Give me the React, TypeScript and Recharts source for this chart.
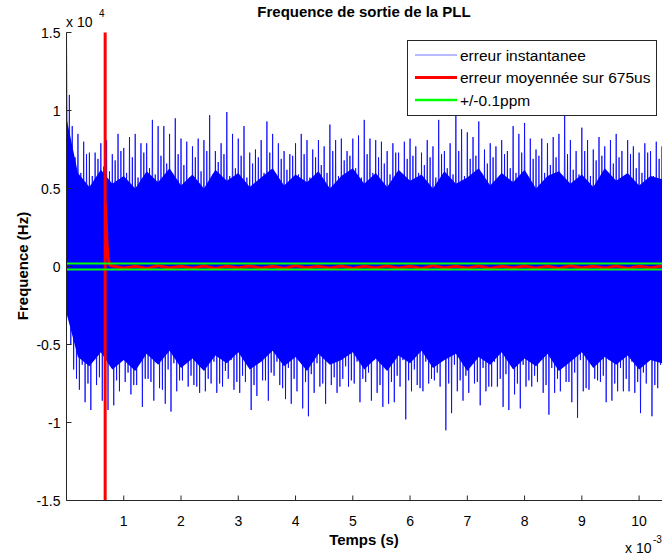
import { Area, ComposedChart, Line, XAxis, YAxis } from 'recharts';

// time in ms (x 10^-3 s), frequency in units of 10^4 Hz
const xTicks = [1, 2, 3, 4, 5, 6, 7, 8, 9, 10];
const yTicks = [-1.5, -1, -0.5, 0, 0.5, 1, 1.5];

// blue: instantaneous error, biggest upper peak per 0.1 ms slot (t = 0 .. 10.4)
const spikeHigh = [
  1.5, 0.9, 0.85, 0.8, 0.73, 0.73, 0.79, 0.81, 0.72, 0.85,
  0.76, 0.83, 0.85, 0.79, 0.79, 0.94, 0.9, 0.9, 0.85, 0.95,
  0.82, 0.8, 0.77, 0.82, 0.81, 0.97, 0.74, 0.79, 0.99, 0.85,
  0.82, 0.9, 0.73, 0.75, 0.81, 0.93, 0.85, 0.79, 0.74, 0.72,
  0.79, 0.85, 0.81, 0.75, 0.81, 0.77, 0.91, 0.81, 0.82, 0.74,
  0.82, 0.84, 0.94, 0.82, 0.81, 0.8, 0.74, 0.79, 0.73, 0.8,
  0.82, 0.77, 0.73, 0.81, 0.77, 0.94, 0.74, 0.79, 0.97, 0.88,
  0.86, 0.83, 0.93, 0.75, 0.79, 0.77, 0.81, 0.74, 0.9, 0.85,
  0.92, 0.82, 0.75, 0.82, 0.79, 0.83, 0.85, 0.97, 0.81, 0.74,
  0.89, 0.81, 0.75, 0.83, 0.77, 0.81, 0.85, 0.74, 0.81, 0.77,
  0.73, 0.79, 0.74, 0.8, 0.77,
];

// biggest lower peak per 0.1 ms slot
const spikeLow = [
  -0.3, -0.66, -0.79, -0.87, -0.92, -0.76, -0.86, -0.92, -0.89, -0.8,
  -0.74, -0.82, -0.76, -0.9, -0.72, -0.86, -0.78, -0.88, -0.93, -0.8,
  -0.73, -0.77, -0.76, -0.81, -0.8, -0.75, -0.81, -0.77, -0.72, -0.79,
  -0.81, -0.74, -0.92, -0.83, -0.73, -0.86, -0.7, -0.76, -0.85, -0.88,
  -0.8, -0.91, -0.96, -0.81, -0.77, -0.88, -0.76, -0.81, -0.72, -0.77,
  -0.75, -0.87, -0.74, -0.86, -0.81, -0.9, -0.88, -0.87, -0.77, -0.98,
  -0.8, -0.76, -0.8, -0.75, -0.73, -0.77, -1.05, -0.94, -0.8, -0.86,
  -0.81, -0.75, -0.89, -0.8, -0.77, -0.77, -0.9, -0.92, -0.82, -0.91,
  -0.77, -0.77, -0.74, -0.81, -0.95, -0.81, -0.8, -0.74, -0.87, -0.97,
  -0.8, -0.79, -0.72, -0.74, -0.87, -0.86, -0.8, -0.8, -0.8, -0.81,
  -0.94, -0.75, -0.96, -0.78, -0.76,
];

// smaller peaks in between
const minorHigh = [
  1.1, 0.7, 0.6, 0.72, 0.58, 0.69, 0.64, 0.61, 0.68, 0.74,
  0.6, 0.7, 0.57, 0.73, 0.63, 0.59, 0.71, 0.66, 0.58, 0.72,
  0.65, 0.57, 0.7, 0.61, 0.74, 0.59, 0.67, 0.72, 0.58, 0.63,
  0.71, 0.57, 0.66, 0.7, 0.6, 0.73, 0.58, 0.69, 0.62, 0.71,
  0.59, 0.72, 0.57, 0.7, 0.65, 0.6, 0.74, 0.58, 0.68, 0.71,
  0.63, 0.57, 0.72, 0.6, 0.7, 0.66, 0.59, 0.73, 0.58, 0.69,
  0.71, 0.6, 0.65, 0.7, 0.57, 0.72, 0.63, 0.59, 0.74, 0.58,
  0.69, 0.71, 0.6, 0.66, 0.7, 0.57, 0.72, 0.63, 0.6, 0.73,
  0.58, 0.69, 0.71, 0.6, 0.65, 0.7, 0.57, 0.72, 0.62, 0.59,
  0.74, 0.58, 0.68, 0.71, 0.6, 0.66, 0.7, 0.57, 0.72, 0.63,
  0.6, 0.73, 0.58, 0.69, 0.71,
];
const minorLow = [
  -0.5, -0.72, -0.63, -0.75, -0.6, -0.71, -0.78, -0.64, -0.73, -0.6,
  -0.68, -0.76, -0.61, -0.72, -0.74, -0.6, -0.79, -0.66, -0.62, -0.73,
  -0.6, -0.7, -0.77, -0.64, -0.72, -0.61, -0.75, -0.67, -0.6, -0.74,
  -0.7, -0.62, -0.76, -0.6, -0.73, -0.68, -0.61, -0.78, -0.65, -0.72,
  -0.6, -0.74, -0.69, -0.62, -0.75, -0.6, -0.71, -0.77, -0.64, -0.73,
  -0.61, -0.72, -0.68, -0.6, -0.76, -0.63, -0.74, -0.7, -0.6, -0.73,
  -0.66, -0.78, -0.61, -0.72, -0.68, -0.6, -0.75, -0.63, -0.73, -0.7,
  -0.6, -0.74, -0.65, -0.77, -0.61, -0.72, -0.69, -0.6, -0.75, -0.63,
  -0.73, -0.7, -0.6, -0.76, -0.65, -0.72, -0.61, -0.74, -0.68, -0.6,
  -0.78, -0.63, -0.73, -0.7, -0.6, -0.75, -0.65, -0.72, -0.61, -0.74,
  -0.68, -0.6, -0.76, -0.63, -0.73,
];

// solid part of the blue band, every 0.2 ms (ragged edge)
const coreHigh = [
  0.95, 0.6, 0.51, 0.62, 0.53, 0.58, 0.5, 0.61, 0.54, 0.63,
  0.52, 0.59, 0.5, 0.62, 0.55, 0.6, 0.51, 0.57, 0.63, 0.52,
  0.59, 0.54, 0.61, 0.5, 0.58, 0.63, 0.53, 0.6, 0.51, 0.62,
  0.55, 0.59, 0.5, 0.61, 0.53, 0.57, 0.63, 0.52, 0.6, 0.54,
  0.62, 0.5, 0.58, 0.61, 0.53, 0.59, 0.51, 0.63, 0.55, 0.6,
  0.52, 0.58, 0.56,
];
const coreLow = [
  -0.3, -0.58, -0.64, -0.55, -0.66, -0.6, -0.67, -0.56, -0.63, -0.54,
  -0.65, -0.59, -0.67, -0.57, -0.62, -0.55, -0.66, -0.61, -0.54, -0.64,
  -0.58, -0.67, -0.56, -0.63, -0.6, -0.55, -0.66, -0.59, -0.67, -0.57,
  -0.62, -0.54, -0.65, -0.6, -0.56, -0.67, -0.58, -0.63, -0.55, -0.66,
  -0.59, -0.64, -0.56, -0.67, -0.61, -0.55, -0.65, -0.58, -0.63, -0.57,
  -0.66, -0.6, -0.62,
];

// red: mean over 675us
const redTime = [
  0.675, 0.675, 0.675, 0.69, 0.71, 0.73, 0.76, 0.8, 1.0, 1.2,
  1.4, 1.6, 1.8, 2.0, 2.2, 2.4, 2.6, 2.8, 3.0, 3.2,
  3.4, 3.6, 3.8, 4.0, 4.2, 4.4, 4.6, 4.8, 5.0, 5.2,
  5.4, 5.6, 5.8, 6.0, 6.2, 6.4, 6.6, 6.8, 7.0, 7.2,
  7.4, 7.6, 7.8, 8.0, 8.2, 8.4, 8.6, 8.8, 9.0, 9.2,
  9.4, 9.6, 9.8, 10.0, 10.2, 10.4,
];
const redValue = [
  -2, 2, 0.42, 0.3, 0.14, 0.05, 0.008, 0.003, -0.011, 0.002,
  -0.012, 0.004, -0.01, 0.002, -0.011, 0.003, -0.012, 0.002, -0.01, 0.003,
  -0.011, 0.002, -0.012, 0.004, -0.01, 0.002, -0.011, 0.003, -0.012, 0.002,
  -0.01, 0.003, -0.011, 0.002, -0.012, 0.004, -0.01, 0.002, -0.011, 0.003,
  -0.012, 0.002, -0.01, 0.003, -0.011, 0.002, -0.012, 0.004, -0.01, 0.002,
  -0.011, 0.003, -0.012, 0.002, -0.01, 0.003,
];

// green: +/-0.1ppm limits
const limitTime = [0, 10.4];
const limitValue = 0.02;

const blueData = spikeHigh.flatMap((hi, i) => [
  { t: i * 0.1, v: hi },
  { t: i * 0.1 + 0.025, v: spikeLow[i] },
  { t: i * 0.1 + 0.05, v: minorHigh[i] },
  { t: i * 0.1 + 0.075, v: minorLow[i] },
]);
const coreData = coreHigh.map((hi, i) => ({ t: i * 0.2, range: [coreLow[i], hi] }));
const redData = redTime.map((t, i) => ({ t, v: redValue[i] }));
const upperLimit = limitTime.map((t) => ({ t, v: limitValue }));
const lowerLimit = limitTime.map((t) => ({ t, v: -limitValue }));

const legendItems = [
  { name: 'erreur instantanee', color: '#0000ff', width: 1 },
  { name: 'erreur moyennée sur 675us', color: '#ff0000', width: 3 },
  { name: '+/-0.1ppm', color: '#00ff00', width: 2.5 },
];

const FONT = '"Liberation Sans", Arial, sans-serif';
const AXIS = '#262626';

const BottomTick = ({ x, y, payload }: any) => (
  <g>
    <line x1={x} x2={x} y1={y} y2={y - 5} stroke={AXIS} />
    <text x={x} y={y + 25} textAnchor="middle" fontSize={14} fontFamily={FONT} fill="#000">
      {payload.value}
    </text>
  </g>
);

const TopTick = ({ x, y }: any) => <line x1={x} x2={x} y1={y} y2={y + 5} stroke={AXIS} />;

const LeftTick = ({ x, y, payload }: any) => (
  <g>
    <line x1={x} x2={x + 5} y1={y} y2={y} stroke={AXIS} />
    <text x={x - 6} y={y + 5} textAnchor="end" fontSize={14} fontFamily={FONT} fill="#000">
      {payload.value}
    </text>
  </g>
);

export default function App() {
  return (
    <div style={{ position: 'absolute', left: 0, top: 0, width: 662, height: 557, background: '#fff' }}>
      <ComposedChart width={662} height={557} margin={{ top: 32.5, right: 0, bottom: 26.5, left: 6.5 }}>
        <XAxis
          dataKey="t"
          type="number"
          domain={[0, 10.4]}
          ticks={xTicks}
          allowDataOverflow
          height={30}
          tickSize={0}
          tickMargin={0}
          tickLine={false}
          axisLine={{ stroke: AXIS }}
          tick={BottomTick}
        />
        <XAxis
          xAxisId="top"
          orientation="top"
          dataKey="t"
          type="number"
          domain={[0, 10.4]}
          ticks={xTicks}
          allowDataOverflow
          height={0}
          tickSize={0}
          tickMargin={0}
          tickLine={false}
          axisLine={{ stroke: AXIS }}
          tick={TopTick}
        />
        <YAxis
          type="number"
          domain={[-1.5, 1.5]}
          ticks={yTicks}
          allowDataOverflow
          width={60}
          tickSize={0}
          tickMargin={0}
          tickLine={false}
          axisLine={{ stroke: AXIS }}
          tick={LeftTick}
        />
        <Line
          data={blueData}
          dataKey="v"
          type="linear"
          stroke="#0000ff"
          strokeWidth={1}
          strokeOpacity={0.8}
          dot={false}
          isAnimationActive={false}
        />
        <Area
          data={coreData}
          dataKey="range"
          type="linear"
          fill="#0000ff"
          fillOpacity={1}
          stroke="none"
          isAnimationActive={false}
        />
        <Line
          data={redData}
          dataKey="v"
          type="linear"
          stroke="#ff0000"
          strokeWidth={3}
          dot={false}
          isAnimationActive={false}
        />
        <Line data={upperLimit} dataKey="v" stroke="#00ff00" strokeWidth={2} dot={false} isAnimationActive={false} />
        <Line data={lowerLimit} dataKey="v" stroke="#00ff00" strokeWidth={2} dot={false} isAnimationActive={false} />
      </ComposedChart>

      <svg
        width={662}
        height={557}
        style={{ position: 'absolute', left: 0, top: 0, pointerEvents: 'none' }}
        fontFamily={FONT}
      >
        <text x={364} y={17} textAnchor="middle" fontSize={15} fontWeight="bold">
          Frequence de sortie de la PLL
        </text>
        <text x={66} y={27} fontSize={14}>x 10</text>
        <text x={99} y={17} fontSize={10}>4</text>
        <text transform="translate(27.5, 266) rotate(-90)" textAnchor="middle" fontSize={15} fontWeight="bold">
          Frequence (Hz)
        </text>
        <text x={364} y={545} textAnchor="middle" fontSize={15} fontWeight="bold">
          Temps (s)
        </text>
        <text x={625} y={553} fontSize={14}>x 10</text>
        <text x={653} y={543} fontSize={10}>-3</text>

        <rect x={407.5} y={40.5} width={249} height={75} fill="#fff" stroke={AXIS} />
        {legendItems.map((item, i) => (
          <g key={item.name}>
            <line
              x1={415}
              x2={457}
              y1={55 + i * 22.5}
              y2={55 + i * 22.5}
              stroke={item.color}
              strokeWidth={item.width}
              strokeOpacity={i === 0 ? 0.55 : 1}
            />
            <text x={460} y={60.5 + i * 22.5} fontSize={15.5}>
              {item.name}
            </text>
          </g>
        ))}
      </svg>
    </div>
  );
}
